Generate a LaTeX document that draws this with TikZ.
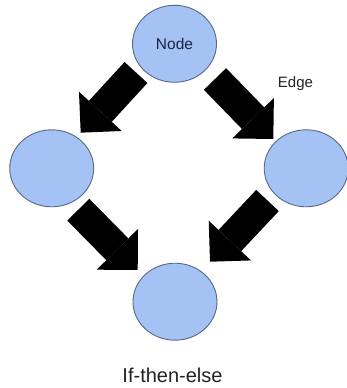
\documentclass[tikz,border=0pt]{standalone}
\usepackage{fontspec}
\setmainfont{Liberation Sans}
\usetikzlibrary{shapes.geometric,arrows.meta}
\definecolor{nodefill}{HTML}{A4C2F4}
\definecolor{nodeline}{HTML}{5A6888}
\definecolor{nodetext}{HTML}{1C2340}
\definecolor{labeltext}{HTML}{222222}
\tikzset{
  vertex/.style={ellipse, draw=nodeline, fill=nodefill, line width=0.9pt,
    minimum width=84pt, minimum height=77pt, inner sep=0pt,
    text=nodetext, font=\fontsize{15.5pt}{18pt}\selectfont},
  blockarrow/.style={draw=black, line width=31pt, line cap=butt,
    -{Triangle[width=58pt,length=29pt,line width=0pt]}},
  label/.style={text=labeltext, inner sep=0pt}
}
\begin{document}
\begin{tikzpicture}[x=1pt,y=-1pt]
\useasboundingbox (0,0) rectangle (346,388);
\node[vertex] (top) at (174.5,43.8) {Node};
\node[vertex] (left) at (51.7,168.3) {};
\node[vertex] (right) at (306.2,168.3) {};
\node[vertex] (bottom) at (175,301.7) {};
\coordinate (t1) at (136,72.5);   \coordinate (h1) at (80.7,132.7);
\coordinate (t2) at (215,79);     \coordinate (h2) at (273.3,139);
\coordinate (t3) at (78.3,209.7); \coordinate (h3) at (137.7,270);
\coordinate (t4) at (267.5,200.5);\coordinate (h4) at (210,261.7);
\draw[blockarrow] (t1) -- (h1);
\draw[blockarrow] (t2) -- (h2);
\draw[blockarrow] (t3) -- (h3);
\draw[blockarrow] (t4) -- (h4);
\node[label, font=\fontsize{15pt}{18pt}\selectfont] (edge) at (295.5,83.5) {Edge};
\node[label, font=\fontsize{20pt}{24pt}\selectfont] (caption) at (172.5,375.5) {If-then-else};
\end{tikzpicture}
\end{document}
